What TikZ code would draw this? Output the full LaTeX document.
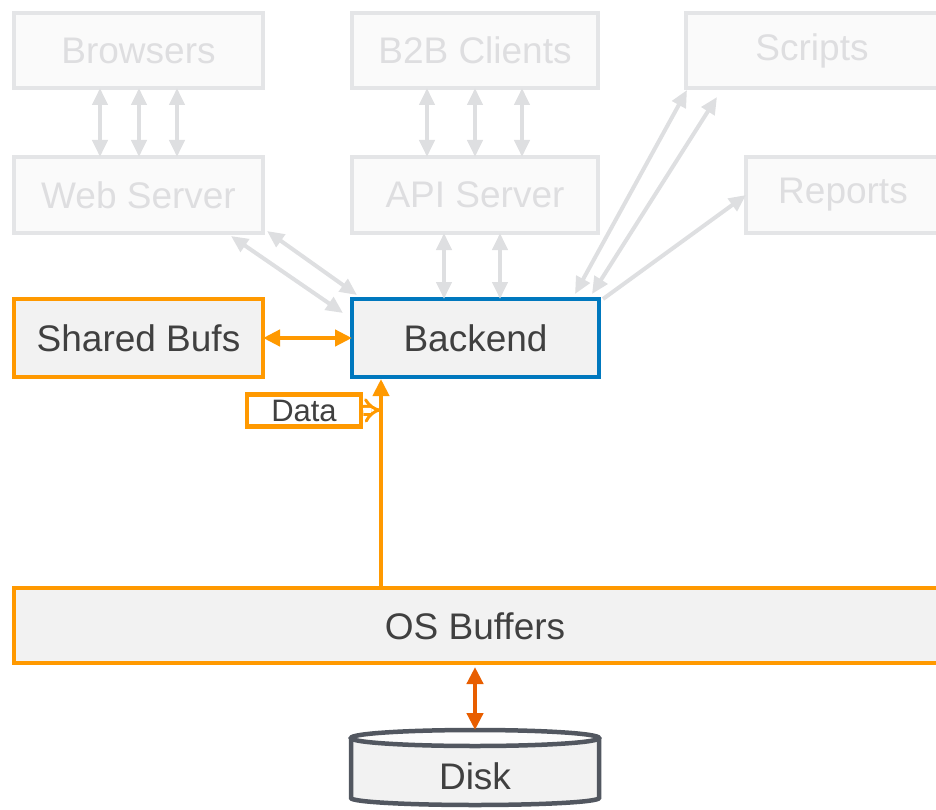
\documentclass[tikz,border=0pt]{standalone}
\usepackage{fontspec}
\setmainfont{Liberation Sans}
\usetikzlibrary{arrows.meta}
\definecolor{gline}{RGB}{228,229,231}
\definecolor{gfill}{RGB}{250,250,250}
\definecolor{gtext}{RGB}{222,222,224}
\definecolor{gar}{RGB}{222,223,225}
\definecolor{orng}{RGB}{255,153,0}
\definecolor{dorng}{RGB}{232,94,0}
\definecolor{bblue}{RGB}{0,120,190}
\definecolor{bfill}{RGB}{242,242,242}
\definecolor{dtext}{RGB}{64,64,64}
\definecolor{dgray}{RGB}{82,87,96}
\tikzset{
  greybox/.style={draw=gline, fill=gfill, line width=4.5pt, text=gtext, inner sep=0pt, outer sep=0pt, font=\fontsize{37}{40}\selectfont},
  orbox/.style={draw=orng, fill=bfill, line width=4.5pt, text=dtext, inner sep=0pt, outer sep=0pt, font=\fontsize{37}{40}\selectfont},
  bluebox/.style={draw=bblue, fill=bfill, line width=4.5pt, text=dtext, inner sep=0pt, outer sep=0pt, font=\fontsize{37}{40}\selectfont},
  garrow/.style={draw=gar, line width=4pt, {Triangle[width=15pt,length=17pt]}-{Triangle[width=15pt,length=17pt]}},
  garrowone/.style={draw=gar, line width=4pt, -{Triangle[width=15pt,length=17pt]}},
  oarrow/.style={draw=orng, line width=4.5pt, {Triangle[width=16pt,length=17pt]}-{Triangle[width=16pt,length=17pt]}},
}
\begin{document}
\begin{tikzpicture}[x=1pt,y=-1pt]
\useasboundingbox (0,0) rectangle (936,810);
% grey boxes
\node[greybox, minimum width=249pt, minimum height=75pt] (brow) at (138.5,50.5) {Browsers};
\node[greybox, minimum width=246pt, minimum height=75pt] (b2b) at (475,50.5) {B2B Clients};
\node[greybox, minimum width=252pt, minimum height=75pt] (scr) at (812,50.5) {Scripts};
\node[greybox, minimum width=249pt, minimum height=76pt] (web) at (138.5,195) {Web Server};
\node[greybox, minimum width=246pt, minimum height=76pt] (api) at (475,195) {API Server};
\node[greybox, minimum width=194pt, minimum height=76pt] (rep) at (843,195) {Reports};
% main boxes
\node[orbox, minimum width=249pt, minimum height=78pt] (sb) at (138.5,338) {Shared Bufs};
\node[bluebox, minimum width=247pt, minimum height=78pt] (be) at (475.5,338) {Backend};
\node[orbox, minimum width=928pt, minimum height=75pt, anchor=west] (os) at (14,625.5) {};
\node[text=dtext, font=\fontsize{37}{40}\selectfont] (oslbl) at (475,626) {OS Buffers};
\node[draw=orng, fill=white, line width=4.5pt, text=dtext, inner sep=0pt, minimum width=114pt, minimum height=32pt, font=\fontsize{31}{34}\selectfont] (data) at (304,410.5) {Data};
% disk
\coordinate (dtop) at (475,730);
\fill[bfill] (351,738) -- (351,798) arc[start angle=180,end angle=360,x radius=124pt,y radius=7pt] -- (599,738) arc[start angle=0,end angle=180,x radius=124pt,y radius=8pt] -- cycle;
\fill[gfill!60!white] (475,738) ellipse[x radius=124pt, y radius=8pt];
\draw[dgray, line width=4.5pt] (351,738) -- (351,798) arc[start angle=180,end angle=360,x radius=124pt,y radius=7pt] -- (599,738);
\draw[dgray, line width=4.5pt] (475,738) ellipse[x radius=124pt, y radius=8pt];
\node[text=dtext, font=\fontsize{37}{40}\selectfont] (disk) at (475,776) {Disk};
% grey arrows
\foreach \x in {100,139,177}{
  \draw[garrow] (\x,0 |- brow.south) -- (\x,0 |- web.north);
}
\foreach \x in {427,475,522}{
  \draw[garrow] (\x,0 |- b2b.south) -- (\x,0 |- api.north);
}
\foreach \x in {444,500}{
  \draw[garrow] (\x,0 |- api.south) -- (\x,0 |- be.north);
}
\coordinate (wa1) at (231,236);
\coordinate (wb1) at (343,313);
\coordinate (wa2) at (267,231);
\coordinate (wb2) at (357,295);
\draw[garrow] (wa1) -- (wb1);
\draw[garrow] (wa2) -- (wb2);
\coordinate (sa1) at (687,90);
\coordinate (sb1) at (575,294);
\coordinate (sa2) at (717,97);
\coordinate (sb2) at (592,294);
\draw[garrow] (sa1) -- (sb1);
\draw[garrow] (sa2) -- (sb2);
\coordinate (ra) at (603,299);
\coordinate (rb) at (746,195);
\draw[garrowone] (ra) -- (rb);
% orange arrows
\draw[oarrow] (sb.east) -- (be.west);
\coordinate (osup) at (381,586);
\coordinate (beb) at (381,379);
\draw[orng, line width=4pt, -{Triangle[width=16pt,length=17pt]}] (osup) -- (beb);
\coordinate (dj) at (381,410);
\draw[orng, line width=3pt, double=white, double distance=5pt, -{Implies}] (data.east) -- (dj);
\draw[dorng, line width=4.5pt, {Triangle[width=16pt,length=17pt]}-{Triangle[width=16pt,length=17pt]}] (475,667) -- (dtop);
\end{tikzpicture}
\end{document}
